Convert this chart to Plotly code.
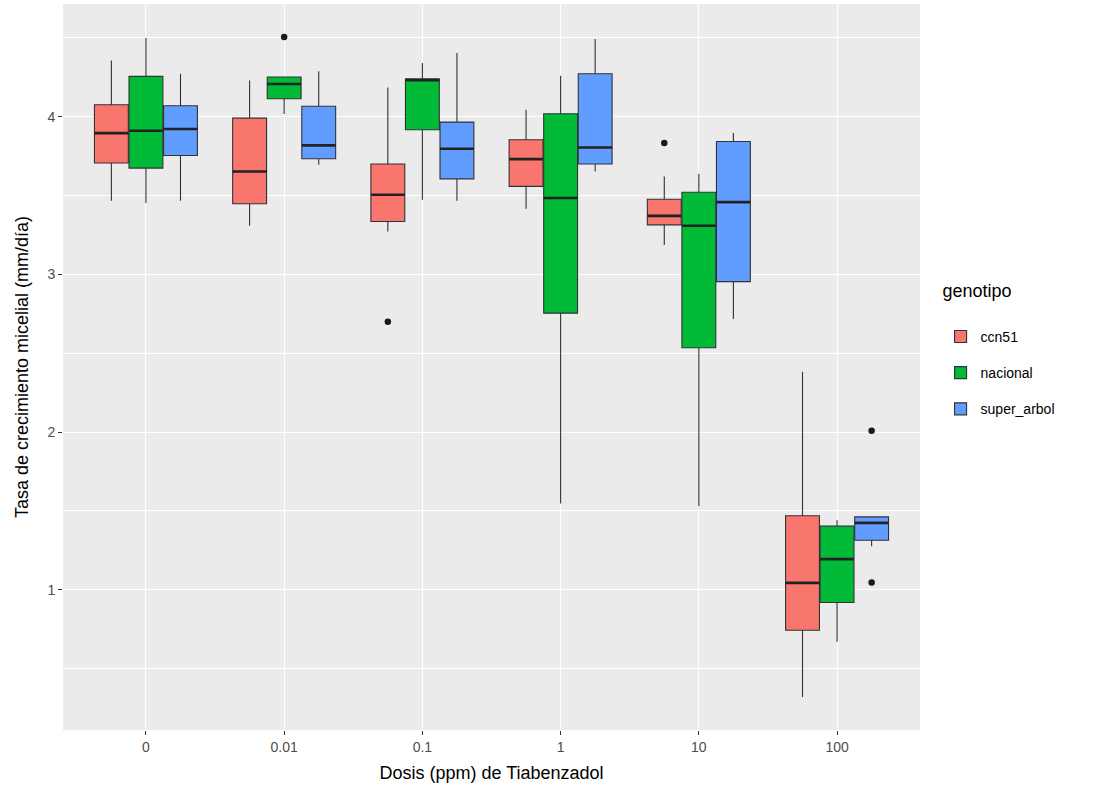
import plotly.graph_objects as go

doses = ["0", "0.01", "0.1", "1", "10", "100"]
genotypes = ["ccn51", "nacional", "super_arbol"]
colors = ["#F8766D", "#00BA38", "#619CFF"]

# ccn51
ccn51_lower = [3.467, 3.308, 3.272, 3.416, 3.187, 0.319]
ccn51_q1 = [3.706, 3.448, 3.335, 3.558, 3.314, 0.743]
ccn51_med = [3.896, 3.653, 3.505, 3.731, 3.371, 1.043]
ccn51_q3 = [4.076, 3.991, 3.700, 3.854, 3.477, 1.469]
ccn51_upper = [4.356, 4.229, 4.186, 4.044, 3.621, 2.383]
ccn51_out_dose = ["0.1", "10"]
ccn51_out_val = [2.700, 3.833]

# nacional
nacional_lower = [3.452, 4.017, 3.473, 1.547, 1.530, 0.669]
nacional_q1 = [3.674, 4.114, 3.917, 2.754, 2.535, 0.919]
nacional_med = [3.911, 4.208, 4.231, 3.484, 3.308, 1.194]
nacional_q3 = [4.256, 4.252, 4.241, 4.019, 3.521, 1.403]
nacional_upper = [4.500, 4.252, 4.341, 4.260, 3.638, 1.441]
nacional_out_dose = ["0.01"]
nacional_out_val = [4.506]

# super_arbol
super_lower = [3.467, 3.695, 3.467, 3.653, 2.717, 1.276]
super_q1 = [3.754, 3.733, 3.606, 3.700, 2.954, 1.314]
super_med = [3.922, 3.818, 3.797, 3.805, 3.458, 1.424]
super_q3 = [4.070, 4.066, 3.966, 4.273, 3.843, 1.462]
super_upper = [4.273, 4.288, 4.404, 4.493, 3.896, 1.462]
super_out_dose = ["100", "100"]
super_out_val = [2.008, 1.046]

stats = [
    (ccn51_lower, ccn51_q1, ccn51_med, ccn51_q3, ccn51_upper, ccn51_out_dose, ccn51_out_val),
    (nacional_lower, nacional_q1, nacional_med, nacional_q3, nacional_upper, nacional_out_dose, nacional_out_val),
    (super_lower, super_q1, super_med, super_q3, super_upper, super_out_dose, super_out_val),
]

dodge = 0.25
box_w = 0.245
fig = go.Figure()

for j, (g, col, st) in enumerate(zip(genotypes, colors, stats)):
    lo, q1, med, q3, up, od, ov = st
    off = (j - 1) * dodge
    xs = [i + off for i in range(len(doses))]
    fig.add_trace(go.Box(
        x=xs, q1=q1, median=med, q3=q3, lowerfence=lo, upperfence=up,
        width=box_w, name=g, legendgroup=g,
        fillcolor=col, line=dict(color="#333333", width=1.1),
        whiskerwidth=0, boxpoints=False, showlegend=True,
    ))
    # thicker median lines
    mx, my = [], []
    for x, m in zip(xs, med):
        mx += [x - box_w / 2, x + box_w / 2, None]
        my += [m, m, None]
    fig.add_trace(go.Scatter(x=mx, y=my, mode="lines",
                             line=dict(color="#222222", width=2.6),
                             showlegend=False, hoverinfo="skip", legendgroup=g))
    # outliers
    ox = [doses.index(d) + off for d in od]
    fig.add_trace(go.Scatter(x=ox, y=ov, mode="markers",
                             marker=dict(color="#1a1a1a", size=6.5),
                             showlegend=False, legendgroup=g))

fig.update_layout(
    width=1118, height=795,
    margin=dict(l=63, r=198, t=4, b=65),
    paper_bgcolor="white", plot_bgcolor="#EBEBEB",
    font=dict(family="Liberation Sans, Arial, sans-serif", color="#000000"),
    legend=dict(
        title=dict(text="genotipo<br> ", font=dict(size=18, color="#000")),
        x=1.024, xanchor="left", y=0.628, yanchor="top",
        font=dict(size=14, color="#000"), tracegroupgap=15,
        bgcolor="rgba(0,0,0,0)",
    ),
    xaxis=dict(
        range=[-0.6, 5.6], tickmode="array", tickvals=list(range(len(doses))),
        ticktext=doses, showgrid=True, gridcolor="white", gridwidth=1.3,
        zeroline=False, showline=False, ticks="outside", ticklen=4,
        tickcolor="#333333", tickfont=dict(size=14, color="#4D4D4D"),
        title=dict(text="Dosis (ppm) de Tiabenzadol", font=dict(size=18, color="#000"), standoff=12),
    ),
    yaxis=dict(
        range=[0.11, 4.715], tickmode="array", tickvals=[1, 2, 3, 4],
        showgrid=True, gridcolor="white", gridwidth=1.3,
        minor=dict(tick0=0, dtick=0.5, showgrid=True, gridcolor="white", gridwidth=0.6),
        zeroline=False, showline=False, ticks="outside", ticklen=4,
        tickcolor="#333333", tickfont=dict(size=14, color="#4D4D4D"),
        title=dict(text="Tasa de crecimiento micelial (mm/día)", font=dict(size=18, color="#000"), standoff=14),
    ),
)

fig.write_html("out.html")
